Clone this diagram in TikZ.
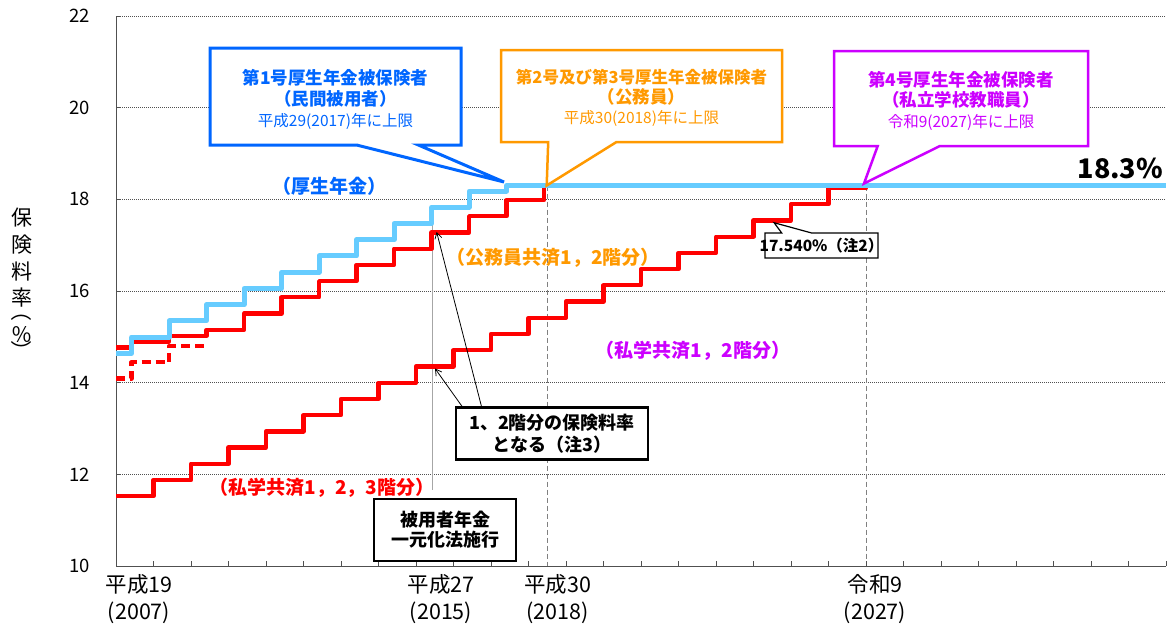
\documentclass[tikz,border=0pt]{standalone}
\usepackage{fontspec}
\setmainfont{Noto Sans CJK JP}
\usetikzlibrary{arrows.meta,calc}

\definecolor{kouseiline}{RGB}{102,204,255}
\definecolor{kouseitext}{RGB}{0,102,255}
\definecolor{koumuin}{RGB}{255,153,0}
\definecolor{shigaku}{RGB}{204,0,255}
\definecolor{gridgray}{RGB}{80,80,80}

\newcommand{\fs}[2]{\fontsize{#1}{#2}\selectfont}

\begin{document}
\begin{tikzpicture}[x=1pt, y=-1pt,
    every node/.style={inner sep=0pt, outer sep=0pt},
    gridline/.style={gridgray, line width=0.8pt, dash pattern=on 1pt off 1pt},
    axisline/.style={gridgray, line width=1pt},
    yeardash/.style={gray, line width=0.9pt, dash pattern=on 5pt off 3pt},
    kosei/.style={kouseiline, line width=5pt, line join=round},
    kyosai/.style={red, line width=4.3pt, line join=round},
    boxframe/.style={fill=white, line join=miter},
    notetext/.style={align=center},
    serieslabel/.style={font=\fs{19}{22}\bfseries},
    ticklabel/.style={anchor=east, font=\fs{18.5}{22}},
    yearlabel/.style={align=center, font=\fs{21.5}{27}},
    pointer/.style={-{Straight Barb[length=6pt,width=7pt]}, line width=0.8pt},
  ]
  \useasboundingbox (0,0) rectangle (1173,627);

  \begin{scope}[shift={(116,566)}, x=37.5pt, y=45.83pt]
    % grid and axes
    \foreach \v in {2,4,...,12}
      \draw[gridline] (0,\v) -- (28,\v);
    \draw[yeardash] (11.5,8.3) -- (11.5,0);
    \draw[yeardash] (20,8.3) -- (20,0);
    \draw[gray!70, line width=0.8pt] (8.45,7.83) -- (8.45,1.66);
    \draw[axisline] (0,12) -- (0,0) -- (28,0);
    \foreach \k in {1,...,28}
      \draw[axisline] (\k,0) -- (\k,0.11);
    \foreach \v in {2,4,...,12}
      \draw[axisline] (0,\v) -- (0.13,\v);

    % rates
    \draw[kyosai, dash pattern=on 9pt off 5pt] (0,4.09) -| (5/12,4.446) -| (17/12,4.80) -- (29/12,4.80);
    \draw[kyosai] (0,1.522) \foreach \k in {1,...,19} { -| (\k,{1.522+0.354*\k}) } -| (20,8.3);
    \draw[kyosai] (0,4.767) -| (5/12,4.896) -| (17/12,5.025) -| (29/12,5.154)
      \foreach \k in {3,...,10} { -| ({\k+5/12},{5.154+0.354*(\k-2)}) } -| (137/12,8.3);
    \draw[kosei] (0,4.642)
      \foreach \k in {0,...,9} { -| ({\k+5/12},{4.642+0.354*(\k+1)}) } -| (125/12,8.3) -- (28,8.3);

    \coordinate (a1) at (8.507,4.31);
    \coordinate (a2) at (8.55,7.29);
    \coordinate (t6) at (17.55,7.49);
  \end{scope}

  \coordinate (t1) at (504,182);
  \coordinate (t2) at (546.7,185.5);
  \coordinate (t3) at (864,183.5);

  % callouts
  \node[minimum width=251pt, minimum height=97pt] (n1) at (335.5,96.5) {};
  \draw[boxframe, draw=kouseitext, line width=3pt] (n1.north west) -- (n1.north east) -- (n1.south east)
    -- ($(n1.south west)!0.83!(n1.south east)$) -- (t1) -- ($(n1.south west)!0.584!(n1.south east)$)
    -- (n1.south west) -- cycle;
  \node[notetext, text=kouseitext, font=\fs{17.5}{21}\bfseries] (n1t) at (335.5,99)
    {第1号厚生年金被保険者\\（民間被用者）\\{\fs{15.5}{21}\mdseries 平成29(2017)年に上限}};

  \node[minimum width=281pt, minimum height=92pt] (n2) at (641.5,96) {};
  \draw[boxframe, draw=koumuin, line width=2.5pt] (n2.north west) -- (n2.north east) -- (n2.south east)
    -- ($(n2.south west)!0.411!(n2.south east)$) -- (t2) -- ($(n2.south west)!0.168!(n2.south east)$)
    -- (n2.south west) -- cycle;
  \node[notetext, text=koumuin, font=\fs{17.5}{20}\bfseries] (n2t) at (641.5,98)
    {{\fs{16.5}{20}第2号及び第3号厚生年金被保険者}\\（公務員）\\{\fs{15.5}{20}\mdseries 平成30(2018)年に上限}};

  \node[minimum width=254pt, minimum height=95pt] (n3) at (961,98.5) {};
  \draw[boxframe, draw=shigaku, line width=2.5pt] (n3.north west) -- (n3.north east) -- (n3.south east)
    -- ($(n3.south west)!0.417!(n3.south east)$) -- (t3) -- ($(n3.south west)!0.172!(n3.south east)$)
    -- (n3.south west) -- cycle;
  \node[notetext, text=shigaku, font=\fs{17.5}{20.5}\bfseries] (n3t) at (961,100.5)
    {第4号厚生年金被保険者\\（私立学校教職員）\\{\fs{15.5}{20.5}\mdseries 令和9(2027)年に上限}};

  % notes
  \node[draw, line width=2.5pt, fill=white, minimum width=192pt, minimum height=52pt,
        notetext, font=\fs{18}{22}\bfseries] (n4) at (552,433.3) {1、2階分の保険料率\\となる（注3）};
  \draw[pointer] ([xshift=6.7pt]n4.north west) -- (a1);
  \draw[pointer] ([xshift=25.7pt]n4.north west) -- (a2);

  \node[draw, line width=2.5pt, fill=white, minimum width=142pt, minimum height=62pt,
        notetext, font=\fs{18}{20}\bfseries] (n5) at (445,530) {被用者年金\\一元化法施行};

  \node[minimum width=113pt, minimum height=25pt] (n6) at (821.5,245.5) {};
  \draw[boxframe, draw=black, line width=1.2pt] (n6.south west) -- (n6.north west)
    -- ($(n6.north west)!0.148!(n6.north east)$) -- (t6) -- ($(n6.north west)!0.413!(n6.north east)$)
    -- (n6.north east) -- (n6.south east) -- cycle;
  \node[font=\fs{15.5}{17}\bfseries] (n6t) at (n6) {17.540\%（注2）};

  % series labels
  \node[serieslabel, text=kouseitext] (s1) at (329,186) {（厚生年金）};
  \node[serieslabel, text=koumuin] (s2) at (553,258) {（公務員共済1，2階分）};
  \node[serieslabel, text=shigaku] (s3) at (693,351) {（私学共済1，2階分）};
  \node[serieslabel, text=red] (s4) at (322,488) {（私学共済1，2，3階分）};
  \node[font=\fs{27}{30}\bfseries, anchor=east] (s5) at (1163,168) {18.3\%};

  % axis labels
  \foreach \v/\y in {22/16, 20/107.7, 18/199.3, 16/291, 14/382.7, 12/474.3, 10/566}
    \node[ticklabel] (y\v) at (90,\y) {\v};
  \node[font=\fs{21}{26.7}, align=center] (yt) at (21.7,258) {保\\険\\料\\率};
  \node[font=\fs{21}{21}, rotate=-90] (yt1) at (21.7,311) {（};
  \node[font=\fs{21}{21}] (yt2) at (21.7,335) {％};
  \node[font=\fs{21}{21}, rotate=-90] (yt3) at (21.7,351) {）};

  \node[yearlabel] (x1) at (139,599.5) {平成19\\(2007)};
  \node[yearlabel] (x2) at (441,599.5) {平成27\\(2015)};
  \node[yearlabel] (x3) at (557.5,599.5) {平成30\\(2018)};
  \node[yearlabel] (x4) at (875,599.5) {令和9\\(2027)};
\end{tikzpicture}
\end{document}
